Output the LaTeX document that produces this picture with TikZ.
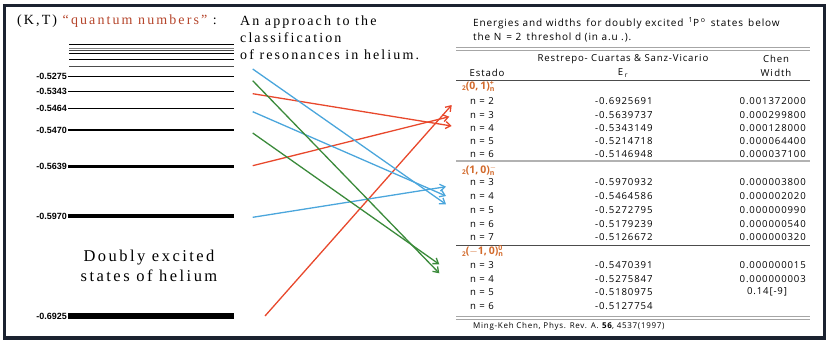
\documentclass[tikz,border=0pt]{standalone}
\usepackage{fontspec}
\setmainfont{Liberation Serif}
\newfontfamily\tabfont[LetterSpace=9]{Open Sans}
\newfontfamily\numfont{Liberation Sans}
\usetikzlibrary{positioning,arrows.meta}

\definecolor{framec}{HTML}{1B2230}
\definecolor{qnred}{HTML}{B5452B}
\definecolor{stateor}{HTML}{D2692A}
\definecolor{arrred}{HTML}{E8482C}
\definecolor{arrblue}{HTML}{4BA6DC}
\definecolor{arrgreen}{HTML}{3A8A3A}

% state label: prefix 2, (K,T), stacked sup/sub
\newcommand\kslabel[2]{{\fontsize{6.5}{6}\selectfont\raisebox{-1.5pt}{2}}(#1)\smash{\rlap{\raisebox{4pt}{\fontsize{7}{6}\selectfont #2}}\raisebox{-2pt}{\fontsize{7}{6}\selectfont n}}}

\begin{document}
\begin{tikzpicture}[x=1pt, y=-1pt,
  >={Straight Barb[length=5pt,width=7pt]},
  lvlabel/.style={font=\numfont\bfseries\fontsize{9}{10}\selectfont, anchor=east, inner sep=1pt},
  lead/.style={font=\fontsize{14}{17}\selectfont\addfontfeature{LetterSpace=15}, anchor=west, align=left, inner sep=0pt},
  tab/.style={font=\tabfont\fontsize{9.6}{13.5}\selectfont, inner sep=0pt},
  statelbl/.style={font=\tabfont\bfseries\fontsize{10.5}{11}\selectfont\addfontfeature{LetterSpace=0}, text=stateor, anchor=west, inner sep=0pt},
  conn/.style={->, line width=1.3pt},
  rule/.style={draw=gray!70, line width=1pt}
]
\useasboundingbox (0,0) rectangle (830,346);
\draw[framec, line width=3.5pt] (4.5,5.5) rectangle (824.5,338);

% ---------- energy levels ----------
\node[lead] (kt) at (17,21) {(K,T) \textcolor{qnred}{“quantum numbers”} :};
\foreach \y/\c in {44.3/black, 48.3/gray, 50.8/black!70, 53.6/black, 59.3/black, 66.7/black!70}
  \draw[\c, line width=0.9pt] (69,\y) -- (234,\y);
\foreach \y/\e/\w [count=\i] in {76/-0.5275/1, 91.7/-0.5343/1.1, 108.3/-0.5464/1.1, 130/-0.5470/1.8, 166.7/-0.5639/3, 216/-0.5970/4, 316/-0.6925/6}{
  \node[lvlabel] (lv\i) at (68,\y) {\e};
  \draw[line width=\w pt] (lv\i.east) -- (234,\y);
}
\node[lead, anchor=center, align=center, font=\fontsize{16.5}{20}\selectfont\addfontfeature{LetterSpace=15}] (doubly) at (149,266) {Doubly excited\\states of helium};

\node[lead] (approach) at (240,38) {An approach to the\\ classification\\of resonances in helium.};

% ---------- table ----------
\node[tab, anchor=west, align=left, font=\tabfont\fontsize{10}{14}\selectfont] (title) at (473,30)
  {Energies and widths\, for doubly excited\, \textsuperscript{1}P\,\textsuperscript{o}\, states\, below\\the N \,= 2\, threshol d (in a.u .).};
\draw[rule] (456,47) -- (810,47);
\draw[rule] (456,50) -- (810,50);
\node[tab] (hrc)   at (623,59) {Restrepo- Cuartas \& Sanz-Vicario};
\node[tab] (hchen) at (776,59) {Chen};
\node[tab] (hest)  at (487,73) {Estado};
\node[tab] (her)   at (623,73) {E\,\textsubscript{r}};
\node[tab] (hw)    at (776,73) {Wi\,dth};
\draw[black!70, line width=0.9pt] (456,80) -- (810,80);

\node[statelbl] (sa) at (462,86.5) {\kslabel{0,\,1}{+}};
\foreach \y/\n/\e/\w in {101/2/-0.6925691/0.001372000, 114.7/3/-0.5639737/0.000299800, 127.7/4/-0.5343149/0.000128000,
                         141.3/5/-0.5214718/0.000064400, 154.3/6/-0.5146948/0.000037100}{
  \node[tab, anchor=west] (na\n) at (470,\y) {n = \n};
  \node[tab, anchor=east] (ea\n) at (652.7,\y) {\e};
  \node[tab, anchor=east] (wa\n) at (806,\y) {\w};
}
\draw[gray!60, line width=1.3pt] (456,161) -- (810,161);

\node[statelbl] (sb) at (462,170.5) {\kslabel{1,\,0}{$\mathbf{-}$}};
\foreach \y/\n/\e/\w in {181.7/3/-0.5970932/0.000003800, 196.3/4/-0.5464586/0.000002020, 210/5/-0.5272795/0.000000990,
                         223.7/6/-0.5179239/0.000000540, 237/7/-0.5126672/0.000000320}{
  \node[tab, anchor=west] (nb\n) at (470,\y) {n = \n};
  \node[tab, anchor=east] (eb\n) at (652.7,\y) {\e};
  \node[tab, anchor=east] (wb\n) at (806,\y) {\w};
}
\draw[black!70, line width=0.9pt] (456,245.7) -- (810,245.7);

\node[statelbl] (sc) at (462,252) {\kslabel{$\mathbf{-}$1,\,0}{0}};
\foreach \y/\n/\e in {265/3/-0.5470391, 278.7/4/-0.5275847, 292/5/-0.5180975, 305.7/6/-0.5127754}{
  \node[tab, anchor=west] (nc\n) at (470,\y) {n = \n};
  \node[tab, anchor=east] (ec\n) at (652.7,\y) {\e};
}
\node[tab, anchor=east] (wc3) at (806,265) {0.000000015};
\node[tab, anchor=east] (wc4) at (806,278.7) {0.000000003};
\node[tab] (wc5) at (767,292) {0.14[-9]};
\draw[rule] (456,316) -- (810,316);
\draw[rule] (456,319) -- (810,319);
\node[tab, anchor=west, font=\tabfont\fontsize{8}{10}\selectfont] (cite) at (473,326.7)
  {Ming-Keh Chen, Phys. Rev. A. \textbf{56}, 4537(1997)};

% ---------- connectors ----------
\coordinate (s1) at (265,316);     \coordinate (ta2) at (451.7,105);
\coordinate (s2) at (252.7,165.7); \coordinate (ta3) at (449.3,116.7);
\coordinate (s3) at (252.7,93.7);  \coordinate (ta4) at (451.7,126);
\coordinate (s4) at (252.7,217.3); \coordinate (tb3) at (446,186.7);
\coordinate (s5) at (252.7,111.7); \coordinate (tb4) at (446,196);
\coordinate (s6) at (252.7,69);    \coordinate (tb5) at (446,204.3);
\coordinate (s7) at (252.7,133);   \coordinate (tc3) at (439.3,264.3);
\coordinate (s8) at (252.7,80.7);  \coordinate (tc4) at (439.3,273.3);

\draw[conn, arrred]   (s1) -- (ta2);
\draw[conn, arrred]   (s2) -- (ta3);
\draw[conn, arrred]   (s3) -- (ta4);
\draw[conn, arrblue]  (s4) -- (tb3);
\draw[conn, arrblue]  (s5) -- (tb4);
\draw[conn, arrblue]  (s6) -- (tb5);
\draw[conn, arrgreen] (s7) -- (tc3);
\draw[conn, arrgreen] (s8) -- (tc4);
\end{tikzpicture}
\end{document}
